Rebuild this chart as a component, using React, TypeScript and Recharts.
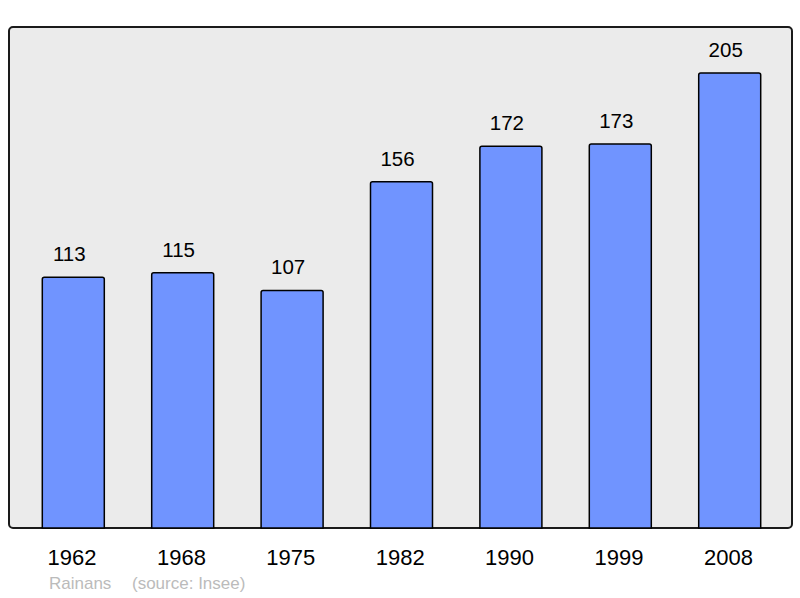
import React from 'react';
import { BarChart, Bar, XAxis, YAxis, LabelList } from 'recharts';

const years = ['1962', '1968', '1975', '1982', '1990', '1999', '2008'];
const population = [113, 115, 107, 156, 172, 173, 205];
const commune = 'Rainans';
const source = '(source: Insee)';

const data = years.map((year, i) => ({ year, population: population[i] }));

const FONT = '"Liberation Sans", Arial, sans-serif';

const App: React.FC = () => (
    <div style={{ position: 'absolute', left: 0, top: 0, width: 800, height: 598, background: '#fff' }}>
        <div
            style={{
                position: 'absolute', left: 8, top: 26, width: 785, height: 503,
                boxSizing: 'border-box', border: '2px solid #1a1a1a', borderRadius: 5,
                background: '#ebebeb',
            }}
        />
        <div style={{ position: 'absolute', left: 0, top: 0 }}>
            <BarChart width={800} height={598} data={data} margin={{ top: 27, right: 8, bottom: 40, left: 9 }}>
                <XAxis
                    dataKey="year"
                    height={30}
                    axisLine={false}
                    tickLine={false}
                    tickSize={0}
                    tickMargin={21.5}
                    padding={{ left: 9.3, right: 7.9 }}
                    tick={{ fontSize: 22, fill: '#000', fontFamily: FONT, dx: -1 }}
                    interval={0}
                />
                <YAxis hide domain={[0, 225.7]} />
                <Bar
                    dataKey="population"
                    barSize={62}
                    fill="#7094ff"
                    stroke="#000"
                    strokeWidth={1.5}
                    radius={[2, 2, 0, 0]}
                    isAnimationActive={false}
                >
                    <LabelList
                        dataKey="population"
                        position="top"
                        offset={16}
                        dx={-4}
                        style={{ fontSize: 20.5, fill: '#000', fontFamily: FONT }}
                    />
                </Bar>
            </BarChart>
        </div>
        <svg width={800} height={598} style={{ position: 'absolute', left: 0, top: 0, pointerEvents: 'none' }}>
            <text x={49} y={589} fontSize={17} fill="#bbbbbb" fontFamily={FONT}>{commune}</text>
            <text x={132} y={589} fontSize={17} fill="#bbbbbb" fontFamily={FONT}>{source}</text>
        </svg>
    </div>
);

export default App;
